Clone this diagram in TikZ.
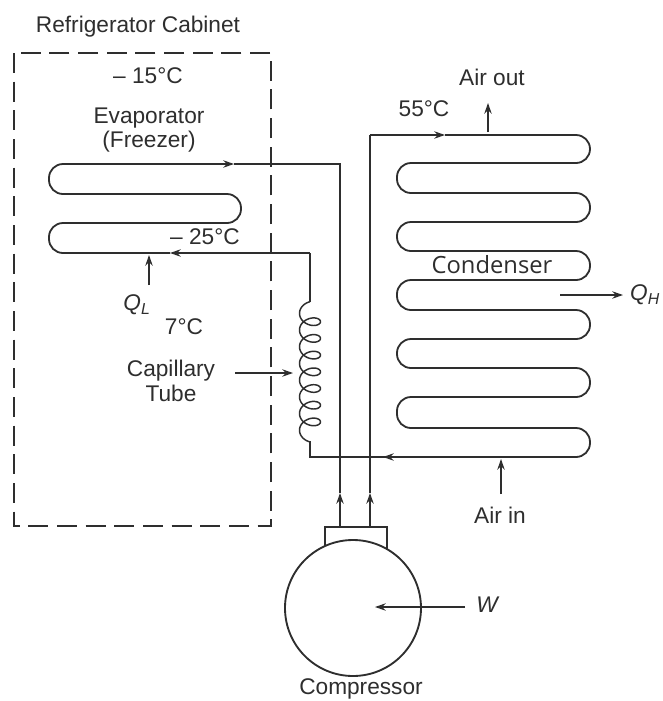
\documentclass[tikz,border=0pt]{standalone}
\usepackage{fontspec}
\usetikzlibrary{arrows.meta}
\setmainfont{Liberation Sans}
\newfontfamily\labelfont{Open Sans}
\definecolor{ink}{HTML}{2E2E2E}
\tikzstyle{pipe}=[draw=ink,line width=1.5pt,rounded corners=0pt]
\tikzstyle{coil}=[pipe,line width=1.35pt,rounded corners=10.5pt]
\tikzstyle{heat}=[draw=ink,line width=1.25pt]
\tikzstyle{lbl}=[text=ink,inner sep=0pt,align=center,font=\fontsize{17}{18.5}\selectfont]

\begin{document}
\begin{tikzpicture}[->, >={Stealth[length=8pt,width=5.5pt]}, x=0.75pt, y=-0.75pt]
		\useasboundingbox (0,0) rectangle (662,701);
		\fill[white] (0,0) rectangle (662,701);

		\node [lbl] (cabinet)   at (138, 27)  {Refrigerator Cabinet};
		\node [lbl] (t15)       at (148, 76)  {– 15°C};
		\node [lbl] (evap)      at (149,130)  {Evaporator\\(Freezer)};
		\node [lbl] (t25)       at (205,237)  {– 25°C};
		\node [lbl] (ql)        at (137,305)  {\textit{Q\textsubscript{L}}};
		\node [lbl] (t7)        at (184,327)  {7°C};
		\node [lbl] (capillary) at (171,381)  {Capillary\\Tube};
		\node [lbl] (airout)    at (492, 77)  {Air out};
		\node [lbl] (t55)       at (424,109)  {55°C};
		\node [lbl,font=\labelfont\fontsize{17.8}{19}\selectfont] (condenser) at (492,265) {Condenser};
		\node [lbl] (qh)        at (645,295)  {\textit{Q\textsubscript{H}}};
		\node [lbl] (airin)     at (500,515)  {Air in};
		\node [lbl] (w)         at (488,605)  {\textit{W}};
		\node [lbl] (compname)  at (361,689)  {Compressor};

		\coordinate (evapin)   at (310,253);
		\coordinate (evaptip)  at (170,253);
		\coordinate (evapend)  at (234,164);
		\coordinate (suction)  at (340,164);
		\coordinate (suctip)   at (340,493);
		\coordinate (sucbase)  at (340,527);
		\coordinate (distip)   at (370,493);
		\coordinate (disbase)  at (370,527);
		\coordinate (distop)   at (370,135);
		\coordinate (condtip)  at (445,135);
		\coordinate (condend)  at (383,457);
		\coordinate (coilin)   at (310,302);
		\coordinate (coilout)  at (310,441);
		\coordinate (coilbase) at (310,457);
		\coordinate (boxla)    at (325,552);
		\coordinate (boxlb)    at (325,527);
		\coordinate (boxra)    at (387,527);
		\coordinate (boxrb)    at (387,552);

		% cabinet
		\draw [-,draw=ink,line width=1.4pt,dash pattern=on 15pt off 6.5pt] (14,53) rectangle (271,526);

		% evaporator
		\draw [coil] (evaptip) -- (49,253) -- (49,223) -- (241,223) -- (241,194) -- (49,194) -- (49,164) -- (evapend);
		\draw [pipe] (evapin) -- (evaptip);
		\draw [pipe,-] (evapend) -- (suction) -- (suctip);
		\draw [pipe] (sucbase) -- (suctip);

		% condenser
		\draw [pipe] (distop) -- (condtip);
		\draw [pipe,-] (distip) -- (distop);
		\draw [pipe] (disbase) -- (distip);
		\draw [coil,-] (condtip) -- (590,135) -- (590,163) -- (397,163) -- (397,193) -- (590,193) -- (590,222) -- (397,222) -- (397,251) -- (590,251) -- (590,280) -- (397,280) -- (397,310) -- (590,310) -- (590,339) -- (397,339) -- (397,368) -- (590,368) -- (590,397) -- (397,397) -- (397,428) -- (590,428) -- (590,457) -- (condend);
		\draw [pipe] (500,457) -- (condend);
		\draw [pipe,-] (condend) -- (coilbase) -- (coilout);

		% capillary tube
		\draw [pipe,-] (evapin) -- (coilin);
		\draw [-,draw=ink,line width=1.1pt] plot[smooth,samples=260,domain=90:2790,variable=\t] ({310+10.5*cos(\t)},{305+\t/360*16.7-7.5*sin(\t)});

		% compressor
		\draw [pipe,-] (boxla) -- (boxlb) -- (boxra) -- (boxrb);
		\node [circle,draw=ink,fill=white,line width=1.4pt,minimum size=102pt,inner sep=0pt] (compressor) at (353,608) {};

		% heat and air
		\draw [heat] (149,285) -- (149,255);
		\draw [heat] (235,373) -- (293,373);
		\draw [heat] (488,132) -- (488,103);
		\draw [heat] (560,295) -- (623,295);
		\draw [heat] (501,494) -- (501,459);
		\draw [heat] (465,607) -- (375,607);
	\end{tikzpicture}
\end{document}
